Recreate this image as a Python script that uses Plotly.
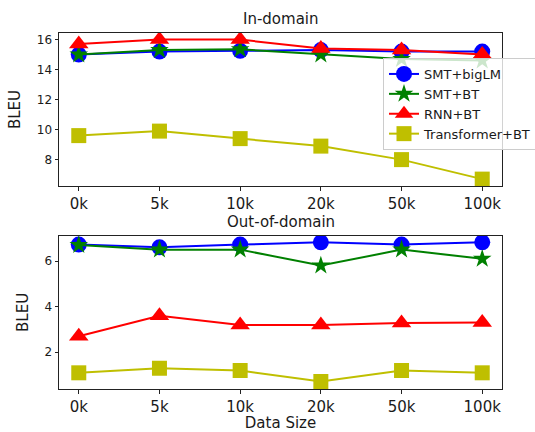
import plotly.graph_objects as go
from plotly.subplots import make_subplots

categories = ["0k", "5k", "10k", "20k", "50k", "100k"]
series_names = ["SMT+bigLM", "SMT+BT", "RNN+BT", "Transformer+BT"]

in_smt_biglm = [15.0, 15.2, 15.25, 15.3, 15.2, 15.2]
in_smt_bt = [15.0, 15.3, 15.35, 15.0, 14.7, 14.6]
in_rnn_bt = [15.7, 16.0, 16.0, 15.4, 15.3, 15.0]
in_transformer_bt = [9.6, 9.9, 9.4, 8.9, 8.0, 6.7]

out_smt_biglm = [6.72, 6.6, 6.72, 6.82, 6.72, 6.82]
out_smt_bt = [6.7, 6.5, 6.5, 5.8, 6.5, 6.1]
out_rnn_bt = [2.7, 3.6, 3.2, 3.2, 3.28, 3.3]
out_transformer_bt = [1.1, 1.3, 1.2, 0.72, 1.2, 1.1]

colors = ["#0000ff", "#008000", "#ff0000", "#bfbf00"]
symbols = ["circle", "star", "triangle-up", "square"]
msizes = [16, 14, 17, 15]

FONT = "DejaVu Sans"
TXT = "#1a1a1a"

fig = make_subplots(rows=2, cols=1)

in_series = [in_smt_biglm, in_smt_bt, in_rnn_bt, in_transformer_bt]
out_series = [out_smt_biglm, out_smt_bt, out_rnn_bt, out_transformer_bt]
xs = list(range(len(categories)))

for i, name in enumerate(series_names):
    fig.add_trace(go.Scatter(
        x=xs, y=in_series[i], name=name, mode="lines+markers",
        line=dict(color=colors[i], width=2),
        marker=dict(symbol=symbols[i], size=msizes[i], color=colors[i], line=dict(width=0)),
        showlegend=True, legendgroup=name), row=1, col=1)
for i, name in enumerate(series_names):
    fig.add_trace(go.Scatter(
        x=xs, y=out_series[i], name=name, mode="lines+markers",
        line=dict(color=colors[i], width=2),
        marker=dict(symbol=symbols[i], size=msizes[i], color=colors[i], line=dict(width=0)),
        showlegend=False, legendgroup=name), row=2, col=1)

axis_common = dict(showline=True, linecolor="#222", linewidth=1, mirror=True,
                   ticks="outside", ticklen=3.5, tickcolor="#222", showgrid=False,
                   zeroline=False, automargin=False)

fig.update_xaxes(**axis_common, tickmode="array", tickvals=xs, ticktext=categories,
                 range=[-0.245, 5.245], tickfont=dict(size=15, color=TXT))
fig.update_yaxes(**axis_common, tickfont=dict(size=12, color=TXT))

plot_h = 432 - 33 - 43
plot_w = 535 - 59 - 33

fig.update_layout(
    xaxis=dict(domain=[0, 1]),
    xaxis2=dict(domain=[0, 1], title=dict(text="Data Size", font=dict(size=15, color=TXT), standoff=14)),
    yaxis=dict(domain=[0.5702, 1], range=[6.24, 16.44], tickvals=[8, 10, 12, 14, 16],
               title=dict(text="BLEU", font=dict(size=15, color=TXT), standoff=12)),
    yaxis2=dict(domain=[0, 0.4306], range=[0.39, 7.11], tickvals=[2, 4, 6],
                title=dict(text="BLEU", font=dict(size=15, color=TXT), standoff=12)),
    width=535, height=432,
    margin=dict(l=59, r=33, t=33, b=43, autoexpand=False),
    paper_bgcolor="white", plot_bgcolor="white",
    font=dict(family=FONT, color=TXT),
    legend=dict(x=(383 - 59) / plot_w, y=1 - (58 - 33) / plot_h, xanchor="left", yanchor="top",
                bgcolor="rgba(255,255,255,0.8)", bordercolor="#cccccc", borderwidth=1,
                font=dict(size=13, color=TXT), tracegroupgap=0, itemwidth=30),
    annotations=[
        dict(text="In-domain", x=0.5, xref="paper", y=1 - (19 - 33) / plot_h, yref="paper",
             yanchor="middle", showarrow=False, font=dict(size=15, color=TXT)),
        dict(text="Out-of-domain", x=0.5, xref="paper", y=1 - (222 - 33) / plot_h, yref="paper",
             yanchor="middle", showarrow=False, font=dict(size=15, color=TXT)),
    ],
)

fig.write_html("out.html", config={"displayModeBar": False},
               post_script="document.body.style.margin='0';")
